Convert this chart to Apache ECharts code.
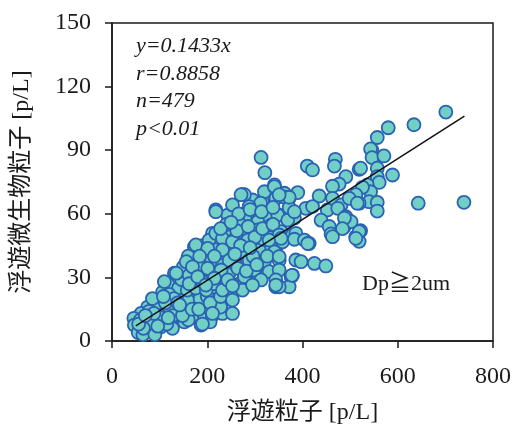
<!DOCTYPE html>
<html>
<head>
<meta charset="utf-8">
<script src="https://cdn.jsdelivr.net/npm/echarts@6/dist/echarts.min.js"></script>
<style>
html, body { margin: 0; padding: 0; background: #fff; }
#main { width: 518px; height: 426px; }
</style>
</head>
<body>
<div id="main"></div>
<script>
// 浮遊粒子 [p/L] (x) vs 浮遊微生物粒子 [p/L] (y)
var particleX = [
	// low, dense part
	173, 190, 218, 232, 187, 166, 215, 194, 225, 131, 156, 180, 211, 239, 152, 127, 106, 93, 117, 141,
	166, 190, 215, 239, 215, 180, 152, 127, 100, 75, 61, 46, 47, 68, 72, 93, 103, 124, 127, 152,
	173, 194, 211, 187, 197, 110, 239, 232, 55, 60, 65, 80, 85, 90, 98, 115, 120, 135, 140, 145,
	160, 170, 185, 200, 205, 225, 245, 150, 140, 160, 200, 120, 110, 85, 78, 66, 130, 160,
	112, 138, 158, 176, 198, 222, 246, 262, 102, 128, 148, 168, 206, 228, 176, 196, 222, 246, 264, 146,
	88, 108, 56, 70, 96, 118, 142, 162, 182, 206, 228, 250, 268,
	// middle part
	313, 321, 218, 243, 274, 295, 341, 362, 372, 344, 316, 320, 264, 285, 306, 330, 351, 383, 211, 236,
	204, 260, 281, 302, 334, 362, 218, 250, 274, 302, 323, 351, 386, 379, 344, 327, 292, 257, 232, 190,
	156, 135, 162, 190, 215, 253, 253, 253, 211, 190, 232, 281, 309, 274, 278, 312, 288, 253, 271, 218,
	323, 348, 267, 306, 334, 369, 218, 240, 278, 306, 355, 379, 232, 253, 285, 330, 358, 176, 201, 232,
	271, 309, 341, 184, 215, 246, 288, 320, 351, 169, 201, 229, 264, 299, 330, 351, 180, 215, 243, 278,
	313, 344, 197, 253, 295, 376, 372, 360, 372, 390,
	266, 290, 314, 338, 262, 286, 318, 296, 270, 240, 258, 300, 326, 282, 304, 228, 250, 290, 316, 338,
	// upper / right part
	410, 421, 469, 467, 519, 546, 557, 580, 634, 701, 543, 546, 571, 589, 522, 557, 557, 561, 536, 543,
	540, 557, 557, 519, 643, 739, 522, 519, 491, 477, 463, 526, 435, 463, 512, 481, 498, 407, 421, 372,
	452, 474, 491, 439, 456, 488, 502, 460, 512, 519, 386, 383, 404, 414, 351, 397, 425, 449, 378, 351,
	351, 341, 351, 383, 515, 488, 484, 512, 463, 411, 330, 355, 344
];
var bioY = [
	44.5, 45, 46, 44, 40, 36, 41, 33.5, 36, 32, 31, 29.6, 30, 30, 26.4, 26.4, 23, 19, 20, 21.7,
	22.5, 24, 25, 24, 19, 18.5, 16, 16, 15.4, 16, 13, 10.7, 7.5, 9, 5, 10, 6.7, 9, 6, 9,
	12, 12, 12, 7.5, 16, 13, 17, 13, 4, 10, 3, 12, 8, 3, 18, 8, 16, 12, 25, 14,
	19, 28, 20, 21, 27, 20, 20, 35, 30, 40, 38, 22, 28, 20, 14, 6, 20, 10,
	18, 18, 24, 25, 24, 28, 32, 40, 11, 12, 12, 15, 9, 16, 33, 37, 38, 45, 44, 29,
	13, 21, 8, 12, 7, 11, 17, 31, 15, 18, 21, 23, 27,
	86.6, 79.4, 61.8, 59.4, 69, 66.5, 73.6, 69.7, 67.3, 67.3, 65.7, 70.4, 56.3, 59.4, 58, 58.6, 59.4, 58, 50.8, 48.4,
	47.6, 48.4, 52.4, 53.2, 51.6, 50, 43, 43, 44.5, 46, 43, 46, 38.2, 31, 25.6, 32.7, 36.6, 36.6, 35.8, 35,
	37.4, 32, 27, 28, 27, 26.4, 19.3, 13, 13, 8, 24, 30, 30, 24, 69, 65, 63.4, 64.2, 69, 61,
	58.6, 59.4, 55.5, 56.3, 54.7, 57, 50.8, 52.4, 50.8, 52.4, 51.6, 50, 48.4, 46.8, 47.6, 47.6, 46.8, 45.3, 43.7, 43,
	42, 43, 42, 40, 40, 38, 38, 37.4, 38, 35, 34.3, 33.5, 34.3, 33.5, 32.7, 33.5, 30.3, 29.6, 28.8, 30.3,
	28.8, 28.8, 26.4, 26, 26.4, 30.3, 25.6, 68, 63, 70,
	60, 62, 61, 63, 52, 54, 48, 40, 45, 55, 41, 49, 40, 33, 36, 53, 56, 44, 53, 55,
	82.5, 80.7, 85.7, 82.5, 81, 90, 96, 100.6, 102, 108, 90.6, 86.5, 87.3, 78.3, 81.5, 81.5, 77.5, 74.8, 73.6, 70.4,
	65.7, 65.4, 61.3, 65, 65, 65.4, 52, 47, 77.5, 74, 73, 72.5, 68.4, 67.3, 69, 64.2, 67.3, 62.6, 63.4, 67.8,
	61.8, 62.6, 58.6, 57, 54, 54, 56.3, 50.5, 49.2, 51.6, 50.8, 48, 47.6, 46, 50, 37.4, 36.6, 35.4, 31, 25.6,
	39.8, 72.8, 69, 61, 65, 58, 53, 48.4, 49.2, 46, 47.6, 48.4, 26.4
];
var slope = 0.1433;
var fitRange = [50, 740];
var xTicks = [0, 800, 200];
var yTicks = [0, 150, 30];
var statLines = ['y=0.1433x', 'r=0.8858', 'n=479', 'p<0.01'];

var points = [];
for (var i = 0; i < particleX.length; i++) {
	points.push([particleX[i], bioY[i]]);
}
var fitLine = fitRange.map(function (x) { return [x, slope * x]; });

var serif = "'Liberation Serif', 'Noto Sans CJK JP', serif";
var ink = '#1a1a1a';

var myChart = echarts.init(document.getElementById('main'));
var option = {
	backgroundColor: '#fff',
	animation: false,
	grid: {
		left: 112,
		right: 25,
		top: 23,
		bottom: 85,
		outerBoundsMode: 'none',
		show: true,
		borderColor: ink,
		borderWidth: 1.5
	},
	xAxis: {
		type: 'value',
		min: xTicks[0],
		max: xTicks[1],
		interval: xTicks[2],
		name: '浮遊粒子 [p/L]',
		nameLocation: 'middle',
		nameGap: 60,
		nameTextStyle: { fontFamily: serif, fontSize: 24, color: ink },
		axisLine: { lineStyle: { color: ink, width: 1.5 } },
		axisTick: { show: true, inside: false, length: 7, lineStyle: { color: ink, width: 1.5 } },
		axisLabel: { fontFamily: serif, fontSize: 24, color: ink, margin: 24 },
		splitLine: { show: false }
	},
	yAxis: {
		type: 'value',
		min: yTicks[0],
		max: yTicks[1],
		interval: yTicks[2],
		name: '浮遊微生物粒子 [p/L]',
		nameLocation: 'middle',
		nameGap: 78,
		nameTextStyle: { fontFamily: serif, fontSize: 24, color: ink },
		axisLine: { lineStyle: { color: ink, width: 1.5 } },
		axisTick: { show: true, inside: false, length: 7, lineStyle: { color: ink, width: 1.5 } },
		axisLabel: { fontFamily: serif, fontSize: 24, color: ink, margin: 21 },
		splitLine: { show: false }
	},
	graphic: [
		{ type: 'text', left: 136, top: 35, style: { text: statLines[0], font: 'italic 22px ' + serif, fill: ink } },
		{ type: 'text', left: 136, top: 63, style: { text: statLines[1], font: 'italic 22px ' + serif, fill: ink } },
		{ type: 'text', left: 136, top: 90, style: { text: statLines[2], font: 'italic 22px ' + serif, fill: ink } },
		{ type: 'text', left: 136, top: 118, style: { text: statLines[3], font: 'italic 22px ' + serif, fill: ink } },
		{ type: 'text', left: 362, top: 273, style: { text: 'Dp≧2um', font: '22px ' + serif, fill: ink } }
	],
	series: [{
		type: 'scatter',
		data: points,
		symbol: 'circle',
		symbolSize: 13,
		itemStyle: {
			color: '#72cfc6',
			borderColor: '#2a62b4',
			borderWidth: 1.8,
			opacity: 1
		},
		z: 2
	}, {
		type: 'line',
		data: fitLine,
		symbol: 'none',
		lineStyle: { color: '#111', width: 1.5 },
		z: 5
	}]
};
myChart.setOption(option);
</script>
</body>
</html>
